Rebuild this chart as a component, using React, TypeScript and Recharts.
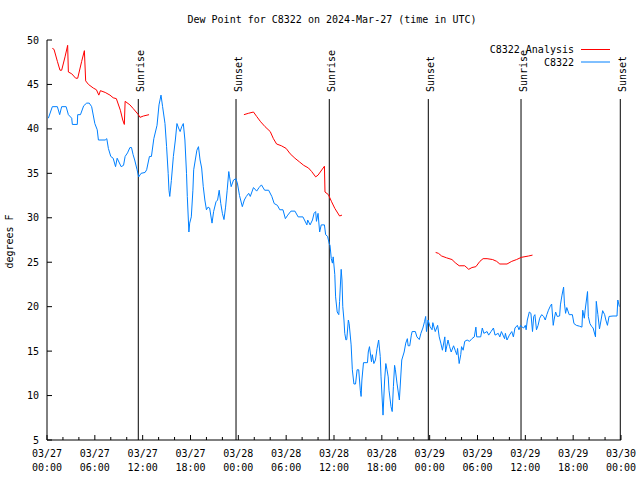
import { LineChart, Line, XAxis, YAxis, ReferenceLine, Legend } from 'recharts'

const FONT = '"DejaVu Sans Mono", monospace'

// station observations (hours since 03/27 00:00 UTC)
const dewHours = [
  0.17, 0.67, 1.3, 1.59, 1.84, 2.4, 2.68, 3.1, 3.18, 3.8, 3.85, 4.2, 4.6, 4.98, 5.3, 5.6, 6.0, 6.3, 6.45, 7.3,
  7.5, 7.7, 8.0, 8.3, 8.6, 8.8, 9.3, 9.6, 9.8, 10.1, 10.4, 10.6, 10.8, 11.0, 11.3, 11.5, 11.8, 12.3, 12.5, 12.85,
  13.1, 13.4, 13.8, 14.05, 14.3, 14.5, 14.8, 15.0, 15.2, 15.3, 15.4, 15.6, 15.85, 16.1, 16.3, 16.5, 16.7, 16.9, 17.1, 17.3,
  17.5, 17.6, 17.8, 17.9, 18.1, 18.3, 18.4, 18.8, 19.0, 19.2, 19.4, 19.6, 19.8, 20.0, 20.2, 20.4, 20.7, 20.9, 21.2, 21.4,
  21.6, 21.8, 22.0, 22.2, 22.4, 22.6, 22.8, 22.9, 23.1, 23.4, 23.7, 23.9, 24.15, 24.5, 24.75, 25.0, 25.3, 25.5, 25.9, 26.3,
  26.6, 26.9, 27.3, 27.8, 28.2, 28.5, 28.9, 29.2, 29.6, 29.9, 30.2, 30.6, 31.1, 31.5, 32.1, 32.6, 32.7, 33.0, 33.3, 33.5,
  33.7, 33.8, 34.0, 34.2, 34.4, 34.8, 34.95, 35.2, 35.4, 35.5, 35.66, 35.8, 35.9, 36.1, 36.2, 36.4, 36.6, 36.7, 36.9, 37.0,
  37.1, 37.25, 37.35, 37.5, 37.6, 37.8, 37.9, 38.15, 38.3, 38.5, 38.7, 38.9, 39.1, 39.3, 39.4, 39.5, 39.7, 40.2, 40.3, 40.45,
  40.7, 40.8, 41.0, 41.2, 41.4, 41.6, 41.8, 41.9, 42.05, 42.15, 42.35, 42.5, 42.65, 42.8, 42.9, 43.05, 43.15, 43.3, 43.45, 43.6,
  43.7, 43.9, 44.2, 44.35, 44.5, 44.8, 45.0, 45.2, 45.3, 45.5, 45.7, 45.8, 46.2, 46.4, 46.7, 46.9, 47.15, 47.35, 47.5, 47.6,
  47.8, 48.05, 48.3, 48.4, 48.7, 49.0, 49.2, 49.4, 49.6, 49.9, 50.0, 50.3, 50.5, 50.7, 51.0, 51.2, 51.4, 51.5, 51.7, 51.9,
  52.0, 52.2, 52.4, 52.7, 53.0, 53.3, 53.6, 53.8, 53.9, 54.4, 54.6, 54.8, 55.2, 55.4, 55.7, 56.0, 56.2, 56.6, 56.8, 57.0,
  57.4, 57.5, 57.7, 58.0, 58.3, 58.5, 58.7, 59.0, 59.2, 59.4, 59.6, 59.8, 60.0, 60.1, 60.25, 60.5, 60.7, 60.9, 61.05, 61.2,
  61.4, 61.6, 61.8, 62.05, 62.3, 62.5, 62.7, 62.9, 63.1, 63.3, 63.5, 63.6, 63.8, 64.0, 64.3, 64.4, 64.6, 64.8, 64.9, 65.05,
  65.2, 65.5, 65.9, 66.1, 66.4, 66.8, 67.1, 67.2, 67.4, 67.5, 67.8, 67.9, 68.1, 68.3, 68.5, 68.8, 68.9, 69.1, 69.3, 69.5,
  69.7, 69.95, 70.1, 70.3, 70.5, 71.0, 71.5, 71.6, 71.8,
]
const dewValues = [
  41.2, 42.5, 42.5, 41.6, 42.5, 42.5, 41.6, 41.2, 40.5, 40.5, 41.6, 41.6, 42.6, 42.9, 42.9, 42.5, 40.6, 39.9, 38.75, 38.75,
  38.9, 37.8, 36.9, 36.7, 35.75, 36.7, 35.75, 35.9, 36.9, 37.3, 37.9, 37.9, 37.1, 36.5, 35.4, 34.6, 35.0, 35.1, 35.4, 36.9,
  36.9, 38.9, 40.4, 42.7, 43.8, 42.5, 40.6, 38.0, 35.0, 33.1, 32.4, 34.2, 36.9, 38.75, 40.6, 40.1, 39.7, 40.25, 40.6, 38.75,
  35.0, 32.4, 28.4, 29.4, 30.1, 33.1, 35.4, 37.6, 38.0, 36.5, 35.6, 33.5, 32.0, 30.9, 31.2, 31.1, 29.4, 30.7, 31.8, 32.0,
  33.1, 31.6, 30.5, 29.8, 31.2, 33.1, 35.2, 34.6, 33.5, 34.25, 34.4, 33.8, 32.5, 31.25, 32.0, 32.4, 32.75, 32.4, 33.4, 33.0,
  33.4, 33.7, 33.1, 33.1, 32.4, 31.6, 31.4, 30.9, 30.9, 29.9, 30.3, 30.75, 30.75, 30.1, 30.1, 29.2, 29.75, 29.2, 29.75, 30.5,
  30.7, 29.6, 30.5, 28.4, 29.2, 29.2, 28.1, 27.9, 27.1, 26.9, 25.4, 24.9, 25.6, 23.6, 21.1, 19.4, 19.1, 20.6, 24.2, 23.0,
  20.0, 18.5, 17.0, 16.25, 16.3, 18.5, 18.1, 15.7, 12.9, 11.3, 11.3, 12.9, 12.9, 10.6, 9.9, 11.75, 13.7, 13.7, 14.9, 15.5,
  13.8, 14.6, 13.6, 14.0, 15.3, 16.25, 14.4, 12.1, 9.5, 7.8, 11.75, 13.6, 12.9, 12.1, 10.6, 9.5, 8.75, 8.2, 11.0, 13.4,
  12.9, 11.4, 9.5, 11.75, 14.0, 14.9, 15.9, 16.4, 15.6, 15.6, 16.8, 17.2, 17.2, 16.6, 16.3, 17.0, 17.6, 18.3, 18.9, 17.2,
  18.5, 17.75, 17.4, 18.2, 17.2, 17.9, 16.6, 15.9, 15.1, 16.6, 14.9, 16.25, 15.5, 14.9, 15.6, 15.1, 14.6, 15.3, 13.6, 14.6,
  15.5, 15.1, 16.1, 16.25, 16.1, 16.4, 16.6, 17.7, 16.6, 16.6, 17.6, 17.0, 17.2, 16.8, 17.2, 17.6, 16.8, 17.0, 16.6, 17.2,
  16.4, 17.0, 16.25, 16.8, 17.2, 16.6, 17.6, 17.9, 17.4, 17.9, 17.7, 17.6, 17.9, 17.4, 18.5, 19.4, 19.25, 17.2, 18.9, 19.1,
  17.4, 17.9, 18.7, 19.1, 18.9, 18.5, 19.1, 19.6, 20.0, 20.3, 17.9, 18.5, 19.4, 18.9, 18.95, 20.2, 21.3, 22.2, 20.4, 19.25,
  19.9, 19.1, 19.1, 18.1, 17.9, 17.8, 17.7, 19.6, 18.7, 19.6, 21.7, 18.9, 18.1, 17.8, 17.6, 16.6, 20.6, 19.1, 17.5, 18.5,
  19.55, 19.1, 18.5, 17.9, 18.9, 18.95, 18.95, 20.75, 20.0,
]

// analysis values, null = gap between runs
const analysisHours = [
  0.67, 0.88, 1.3, 1.63, 1.84, 2.26, 2.59, 2.68, 3.1, 3.6, 3.85, 4.35, 4.69, 4.85, 5.2, 5.8, 6.2, 6.5, 6.7, 7.3,
  7.9, 8.3, 8.7, 9.2, 9.5, 9.7, 9.8, 10.4, 10.8, 11.46, 11.66, 12.1, 12.8,
  18,
  24.7, 25.25, 25.9, 26.3, 26.8, 27.35, 28.0, 28.4, 28.8, 29.4, 30.0, 30.5, 31.1, 31.65, 32.2, 32.8, 33.2, 33.7, 34.0, 34.8,
  34.87, 35.3, 35.7, 36.1, 36.7, 37.0,
  42,
  48.75, 49.1, 49.5, 50.1, 50.8, 51.2, 51.7, 52.4, 52.9, 53.3, 53.8, 54.3, 54.7, 55.2, 55.9, 56.4, 56.8, 57.7, 58.3, 58.9,
  59.5, 60.4, 60.9,
]
const analysisValues = [
  49.06, 48.95, 47.6, 46.6, 46.6, 48.1, 49.4, 46.4, 46.2, 45.7, 45.7, 47.6, 48.8, 45.4, 45.0, 44.6, 44.4, 43.8, 44.3, 44.1,
  43.8, 43.5, 43.4, 42.1, 41.0, 40.5, 43.1, 42.7, 42.3, 41.6, 41.3, 41.45, 41.6,
  null,
  41.6, 41.75, 41.9, 41.4, 40.8, 40.25, 39.7, 38.9, 38.3, 38.1, 37.8, 37.2, 36.7, 36.3, 35.9, 35.6, 35.2, 34.6, 34.8, 35.8,
  32.9, 32.6, 31.8, 31.06, 30.2, 30.3,
  null,
  26.1, 26.0, 25.7, 25.5, 25.3, 24.95, 24.6, 24.6, 24.2, 24.4, 24.5, 25.1, 25.4, 25.4, 25.3, 25.1, 24.8, 24.8, 25.1, 25.3,
  25.55, 25.7, 25.8,
]

const eventHours = [11.45, 23.71, 35.41, 47.83, 59.46, 71.91]
const eventNames = ['Sunrise', 'Sunset', 'Sunrise', 'Sunset', 'Sunrise', 'Sunset']

const seriesNames = ['C8322 Analysis', 'C8322']

const xTicks = [0, 2, 4, 6, 8, 10, 12, 14, 16, 18, 20, 22, 24, 26, 28, 30, 32, 34, 36, 38, 40, 42, 44, 46, 48, 50, 52, 54, 56, 58, 60, 62, 64, 66, 68, 70, 72]
const majorTicks = [0, 6, 12, 18, 24, 30, 36, 42, 48, 54, 60, 66, 72]
const tickDates = ['03/27', '03/27', '03/27', '03/27', '03/28', '03/28', '03/28', '03/28', '03/29', '03/29', '03/29', '03/29', '03/30']
const tickTimes = ['00:00', '06:00', '12:00', '18:00', '00:00', '06:00', '12:00', '18:00', '00:00', '06:00', '12:00', '18:00', '00:00']
const yTicks = [5, 10, 15, 20, 25, 30, 35, 40, 45, 50]

const dewData = dewHours.map((t, i) => ({ t, v: dewValues[i] }))
const analysisData = analysisHours.map((t, i) => ({ t, v: analysisValues[i] }))

const BottomTick = (props: any) => {
  const { x, y, payload } = props
  const k = majorTicks.indexOf(payload.value)
  const len = k >= 0 ? 5 : 3
  return (
    <g>
      <line x1={x} x2={x} y1={y} y2={y - len} stroke="#000" />
      {k >= 0 && (
        <text fontFamily={FONT} fontSize={10} fill="#000" textAnchor="middle">
          <tspan x={x} y={y + 17}>{tickDates[k]}</tspan>
          <tspan x={x} y={y + 31}>{tickTimes[k]}</tspan>
        </text>
      )}
    </g>
  )
}

const TopTick = (props: any) => {
  const { x, y, payload } = props
  const len = majorTicks.includes(payload.value) ? 5 : 3
  return <line x1={x} x2={x} y1={y} y2={y + len} stroke="#000" />
}

const LeftTick = (props: any) => {
  const { x, y, payload } = props
  return (
    <g>
      <line x1={x} x2={x + 5} y1={y} y2={y} stroke="#000" />
      <text x={x - 8} y={y + 3.5} fontFamily={FONT} fontSize={10} fill="#000" textAnchor="end">
        {payload.value}
      </text>
    </g>
  )
}

const RightTick = (props: any) => {
  const { x, y } = props
  return <line x1={x} x2={x - 5} y1={y} y2={y} stroke="#000" />
}

const eventLabel = (name: string) => (props: any) => {
  const { x, y } = props.viewBox
  return (
    <text
      transform={`translate(${x + 6}, ${y - 7}) rotate(-90)`}
      fontFamily={FONT}
      fontSize={10}
      fill="#000"
      textAnchor="start"
    >
      {name}
    </text>
  )
}

const LegendBox = (props: any) => {
  const items = [...(props.payload || [])].sort(
    (a: any, b: any) => seriesNames.indexOf(a.value) - seriesNames.indexOf(b.value)
  )
  return (
    <svg width={640} height={30}>
      {items.map((e: any, i: number) => (
        <g key={e.value}>
          <text x={574} y={11 + i * 12.5} fontFamily={FONT} fontSize={10} fill="#000" textAnchor="end">
            {e.value}
          </text>
          <line x1={581} x2={610} y1={7.5 + i * 12.5} y2={7.5 + i * 12.5} stroke={e.color} />
        </g>
      ))}
    </svg>
  )
}

export default function App() {
  return (
    <div style={{ position: 'absolute', left: 0, top: 0, width: 640, height: 480, background: '#fff', fontFamily: FONT }}>
      <LineChart width={640} height={480} margin={{ top: 40, right: 19, bottom: 0, left: 0 }}>
        <XAxis
          dataKey="t"
          type="number"
          domain={[0, 72]}
          ticks={xTicks}
          interval={0}
          height={40}
          tickSize={0}
          tickMargin={0}
          axisLine={{ stroke: '#000' }}
          tickLine={false}
          tick={<BottomTick />}
          allowDataOverflow
        />
        <XAxis
          xAxisId="top"
          orientation="top"
          dataKey="t"
          type="number"
          domain={[0, 72]}
          ticks={xTicks}
          interval={0}
          height={0}
          tickSize={0}
          tickMargin={0}
          axisLine={{ stroke: '#000' }}
          tickLine={false}
          tick={<TopTick />}
          allowDataOverflow
        />
        <YAxis
          type="number"
          domain={[5, 50]}
          ticks={yTicks}
          interval={0}
          width={47}
          tickSize={0}
          tickMargin={0}
          axisLine={{ stroke: '#000' }}
          tickLine={false}
          tick={<LeftTick />}
          allowDataOverflow
        />
        <YAxis
          yAxisId="right"
          orientation="right"
          type="number"
          domain={[5, 50]}
          ticks={yTicks}
          interval={0}
          width={0}
          tickSize={0}
          tickMargin={0}
          axisLine={{ stroke: '#000' }}
          tickLine={false}
          tick={<RightTick />}
          allowDataOverflow
        />
        {eventHours.map((h, i) => (
          <ReferenceLine
            key={i}
            segment={[{ x: h, y: 43.36 }, { x: h, y: 5 }]}
            stroke="#000"
            strokeWidth={1}
            ifOverflow="visible"
            label={eventLabel(eventNames[i])}
          />
        ))}
        <Line
          data={analysisData}
          dataKey="v"
          name={seriesNames[0]}
          stroke="#ff0000"
          strokeWidth={1}
          dot={false}
          type="linear"
          isAnimationActive={false}
        />
        <Line
          data={dewData}
          dataKey="v"
          name={seriesNames[1]}
          stroke="#0080ff"
          strokeWidth={1}
          dot={false}
          type="linear"
          isAnimationActive={false}
        />
        <Legend
          layout="vertical"
          align="center"
          verticalAlign="middle"
          content={<LegendBox />}
          wrapperStyle={{ position: 'absolute', top: 42, left: 0, width: 640, height: 30 }}
        />
      </LineChart>
      <svg width={640} height={480} style={{ position: 'absolute', left: 0, top: 0, pointerEvents: 'none' }}>
        <text x={332} y={23} fontFamily={FONT} fontSize={10} fill="#000" textAnchor="middle">
          Dew Point for C8322 on 2024-Mar-27 (time in UTC)
        </text>
        <text transform="translate(13, 241.5) rotate(-90)" fontFamily={FONT} fontSize={10} fill="#000" textAnchor="middle">
          degrees F
        </text>
      </svg>
    </div>
  )
}
